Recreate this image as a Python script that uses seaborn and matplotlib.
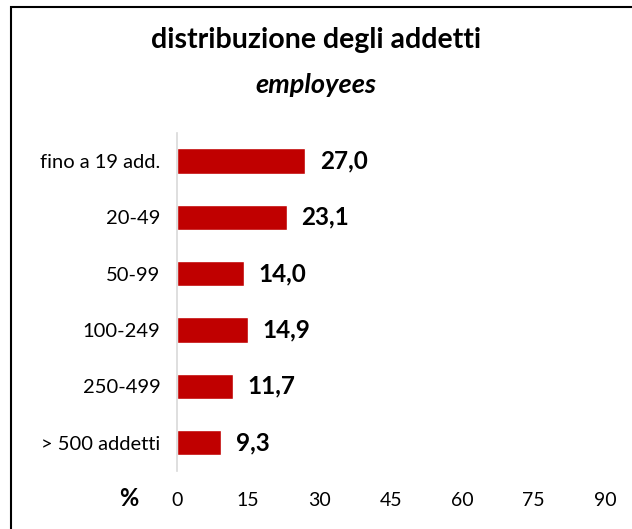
import pandas as pd
import matplotlib.pyplot as plt
import seaborn as sns
from matplotlib.patches import Rectangle

categories = ['fino a 19 add.', '20-49', '50-99', '100-249', '250-499', '> 500 addetti']
values = [27.0, 23.1, 14.0, 14.9, 11.7, 9.3]
x_ticks = [0, 15, 30, 45, 60, 75, 90]

df = pd.DataFrame({'classe': categories, 'quota': values})

sns.set_style('white')
plt.rcParams['font.family'] = ['Lato', 'DejaVu Sans']
plt.rcParams['text.color'] = 'black'
plt.rcParams['xtick.color'] = 'black'
plt.rcParams['ytick.color'] = 'black'

fig = plt.figure(figsize=(6.32, 5.29), dpi=100)
ax = fig.add_axes([0.280, 0.110, 0.677, 0.639])

sns.barplot(ax=ax, data=df, x='quota', y='classe', color='#C00000',
            saturation=1, width=0.45, orient='h')

ax.set_xlim(0, 90)
ax.set_xticks(x_ticks)
ax.set_xticklabels([str(t) for t in x_ticks], fontsize=14)
ax.set_xlabel('')
ax.set_ylabel('')
ax.tick_params(axis='y', length=0, pad=12, labelsize=14.5)
ax.tick_params(axis='x', length=0, pad=15)

for s in ['top', 'right', 'bottom']:
    ax.spines[s].set_visible(False)
ax.spines['left'].set_color('#D9D9D9')
ax.spines['left'].set_linewidth(1.2)

for i, v in enumerate(values):
    ax.text(v + 3.1, i, f'{v:.1f}'.replace('.', ','), va='center', ha='left',
            fontsize=17.5, fontweight='bold')

fig.text(0.203, 1 - 498 / 529, '%', fontsize=17, fontweight='bold',
         ha='center', va='center')

fig.text(0.5, 1 - 40 / 529, 'distribuzione degli addetti', fontsize=20.5,
         fontweight='bold', ha='center', va='center')
fig.text(0.5, 1 - 85 / 529, 'employees', fontsize=19.5, fontstyle='italic',
         fontweight='bold', ha='center', va='center')

fig.patches.append(Rectangle((11 / 632, -0.01), 1.0, 1 - 7 / 529 + 0.01,
                             transform=fig.transFigure, fill=False,
                             edgecolor='black', linewidth=1.5))

fig.savefig('out.png', dpi=100)
